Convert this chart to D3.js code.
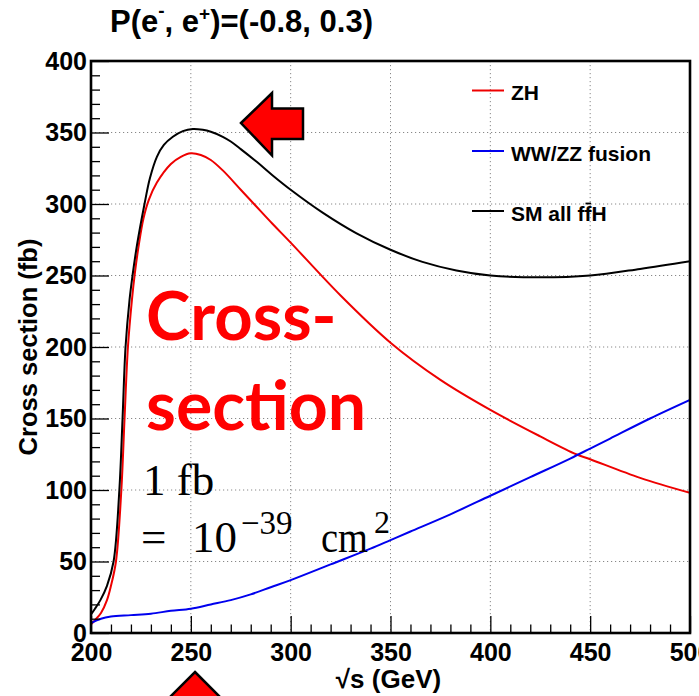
<!DOCTYPE html>
<html>
<head>
<meta charset="utf-8">
<script src="https://cdn.jsdelivr.net/npm/d3@7"></script>
<style>
  html, body { margin: 0; padding: 0; background: #fff; }
  svg { display: block; }
</style>
</head>
<body>
<svg id="chart" width="699" height="696"></svg>
<script>
// ---- data ----
const zhS = [200, 202, 205, 208, 210, 212.5, 215.2, 216.8, 218.5, 220.5, 222, 224, 226.3, 229, 233, 240, 245, 250, 255, 260, 266, 275, 282, 291, 300, 325, 350, 375, 400, 425, 443, 450, 475, 500];
const zhXsec = [6, 9, 14, 23, 33, 50, 100, 150, 200, 233, 252, 272, 290, 303, 315, 328, 333, 335.5, 334.3, 330.8, 323.5, 310, 299.5, 286, 273, 236, 203, 177, 156, 137.5, 125, 121.5, 108.5, 98];

const fusionS = [200, 205, 210, 220, 230, 240, 250, 260, 270, 280, 290, 300, 320, 340, 350, 360, 380, 400, 420, 440, 450, 460, 480, 500];
const fusionXsec = [7, 10, 11.5, 12.5, 13.5, 15.5, 17, 20, 23, 27, 32, 37, 48, 59, 65, 71, 83, 96, 109, 122, 129, 136, 150, 163];

const smS = [200, 202, 204.7, 208, 211.3, 214.2, 215.8, 217.3, 219.3, 220.8, 223, 226.8, 229.5, 233, 236.5, 241, 246, 251, 256, 260, 266, 270, 275, 283, 291, 300, 316, 333, 350, 366, 383, 400, 425, 450, 475, 500];
const smXsec = [13, 17, 23, 33, 50, 100, 150, 200, 233, 250, 271, 300, 318, 333, 341.3, 347, 351, 352.5, 351.9, 350.5, 347, 343.7, 338.4, 329.5, 320, 310, 294, 279.5, 268, 259.5, 253.5, 250, 248.7, 250, 254.6, 260];

const xTicks = [200, 250, 300, 350, 400, 450, 500];
const yTicks = [0, 50, 100, 150, 200, 250, 300, 350, 400];
const seriesNames = ["ZH", "WW/ZZ fusion", "SM all ffH"];
const seriesColors = ["#ee0000", "#0000ee", "#000000"];

// ---- layout ----
const svg = d3.select("#chart");
const L = 91, R = 690, T = 61, B = 633;
const x = d3.scaleLinear().domain([200, 500]).range([L, R]);
const y = d3.scaleLinear().domain([0, 400]).range([B, T]);
const font = "'Liberation Sans', Arial, Helvetica, sans-serif";

svg.append("rect").attr("width", 699).attr("height", 696).attr("fill", "#fff");

// grid
const gridX = xTicks.filter(v => v > 200 && v < 500);
const gridY = yTicks.filter(v => v > 0 && v < 400);
svg.append("g").selectAll("line").data(gridX).join("line")
  .attr("x1", d => x(d)).attr("x2", d => x(d)).attr("y1", T).attr("y2", B)
  .attr("stroke", "#888").attr("stroke-width", 1).attr("stroke-dasharray", "1.2,2.8");
svg.append("g").selectAll("line").data(gridY).join("line")
  .attr("x1", L).attr("x2", R).attr("y1", d => y(d)).attr("y2", d => y(d))
  .attr("stroke", "#888").attr("stroke-width", 1).attr("stroke-dasharray", "1.2,2.8");

// curves
svg.append("clipPath").attr("id", "clip").append("rect")
  .attr("x", L).attr("y", T).attr("width", R - L).attr("height", B - T);
const line = d3.line().x(d => x(d[0])).y(d => y(d[1])).curve(d3.curveCatmullRom.alpha(0.5));
const series = [
  d3.zip(zhS, zhXsec),
  d3.zip(fusionS, fusionXsec),
  d3.zip(smS, smXsec)
];
const gc = svg.append("g").attr("clip-path", "url(#clip)");
series.forEach((s, i) => {
  gc.append("path").datum(s).attr("d", line).attr("fill", "none")
    .attr("stroke", seriesColors[i]).attr("stroke-width", 2);
});

// axes
const minorX = d3.range(200, 501, 10).filter(v => v % 50 !== 0);
const minorY = d3.range(0, 401, 10).filter(v => v % 50 !== 0);

const xAxis = svg.append("g").attr("transform", `translate(0,${B})`)
  .call(d3.axisBottom(x).tickValues(xTicks).tickSizeInner(-17).tickSizeOuter(0).tickPadding(10).tickFormat(d3.format("d")));
const xMinor = svg.append("g").attr("transform", `translate(0,${B})`)
  .call(d3.axisBottom(x).tickValues(minorX).tickSizeInner(-8.5).tickSizeOuter(0).tickFormat(""));
const yAxis = svg.append("g").attr("transform", `translate(${L},0)`)
  .call(d3.axisLeft(y).tickValues(yTicks).tickSizeInner(-18).tickSizeOuter(0).tickPadding(4).tickFormat(d3.format("d")));
const yMinor = svg.append("g").attr("transform", `translate(${L},0)`)
  .call(d3.axisLeft(y).tickValues(minorY).tickSizeInner(-9).tickSizeOuter(0).tickFormat(""));
[xAxis, xMinor, yAxis, yMinor].forEach(g => {
  g.select(".domain").remove();
  g.selectAll(".tick line").attr("stroke", "#000").attr("stroke-width", 1.3);
  g.selectAll(".tick text").attr("font-family", font).attr("font-weight", "bold")
    .attr("font-size", 25).attr("fill", "#000");
});

// frame
svg.append("rect").attr("x", L).attr("y", T).attr("width", R - L).attr("height", B - T)
  .attr("fill", "none").attr("stroke", "#000").attr("stroke-width", 2.6);

// axis titles
svg.append("text").attr("x", (L + R) / 2 - 2).attr("y", 688).attr("text-anchor", "middle")
  .attr("font-family", font).attr("font-weight", "bold").attr("font-size", 26)
  .text("√s (GeV)");
svg.append("text").attr("transform", `translate(37,${(T + B) / 2}) rotate(-90)`)
  .attr("text-anchor", "middle")
  .attr("font-family", font).attr("font-weight", "bold").attr("font-size", 25.5)
  .text("Cross section (fb)");

// title
const title = svg.append("text").attr("x", 110).attr("y", 32)
  .attr("font-family", font).attr("font-weight", "bold").attr("font-size", 31);
title.append("tspan").text("P(e");
title.append("tspan").attr("font-size", 19).attr("dy", -15).text("-");
title.append("tspan").attr("dy", 15).text(", e");
title.append("tspan").attr("font-size", 19).attr("dy", -12).text("+");
title.append("tspan").attr("dy", 12).text(")=(-0.8, 0.3)");

// legend
const legY = [90.5, 151, 211];
seriesNames.forEach((name, i) => {
  svg.append("line").attr("x1", 472).attr("x2", 504).attr("y1", legY[i]).attr("y2", legY[i])
    .attr("stroke", seriesColors[i]).attr("stroke-width", 2);
  const t = svg.append("text").attr("x", 511).attr("y", legY[i] + 9.5)
    .attr("font-family", font).attr("font-weight", "bold").attr("font-size", 21)
    .text(name);
  if (name === "SM all ffH") {
    const ext = t.node().getExtentOfChar(8);
    svg.append("line").attr("x1", ext.x + 1).attr("x2", ext.x + ext.width - 0.5)
      .attr("y1", ext.y + 2).attr("y2", ext.y + 2)
      .attr("stroke", "#000").attr("stroke-width", 1.8);
  }
});

// annotations
svg.append("text").attr("x", 146).attr("y", 340)
  .attr("font-family", "Lato, 'Open Sans', sans-serif").attr("font-weight", "bold")
  .attr("font-size", 67).attr("fill", "#ff0000").text("Cross-");
svg.append("text").attr("x", 146).attr("y", 430)
  .attr("font-family", "Lato, 'Open Sans', sans-serif").attr("font-weight", "bold")
  .attr("font-size", 68).attr("fill", "#ff0000").text("section");

const serif = "'Liberation Serif', 'DejaVu Serif', serif";
svg.append("text").attr("x", 143).attr("y", 495)
  .attr("font-family", serif).attr("font-size", 45).text("1 fb");
const eq = svg.append("text").attr("y", 552)
  .attr("font-family", serif).attr("font-size", 45);
eq.append("tspan").attr("x", 141).text("=");
eq.append("tspan").attr("x", 192).text("10");
eq.append("tspan").attr("x", 241).attr("font-size", 33).attr("dy", -18).text("\u221239");
eq.append("tspan").attr("x", 321).attr("dy", 18)
  .attr("textLength", 47).attr("lengthAdjust", "spacingAndGlyphs").text("cm");
eq.append("tspan").attr("x", 374).attr("font-size", 32).attr("dy", -19).text("2");

// arrows
svg.append("path")
  .attr("d", "M241,123 L272,93 L272,108.5 L303,108.5 L303,139 L272,139 L272,155.5 Z")
  .attr("fill", "#ff0000").attr("stroke", "#000").attr("stroke-width", 2.5).attr("stroke-linejoin", "miter");
svg.append("path")
  .attr("d", "M195,672 L226,703 L210.5,703 L210.5,740 L179.5,740 L179.5,703 L164,703 Z")
  .attr("fill", "#ff0000").attr("stroke", "#000").attr("stroke-width", 2.5).attr("stroke-linejoin", "miter");
</script>
</body>
</html>
